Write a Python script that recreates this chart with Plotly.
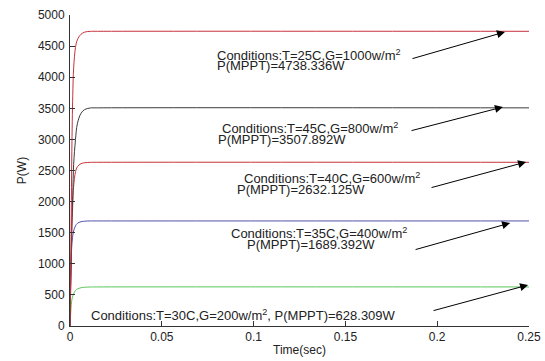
import plotly.graph_objects as go

# time axis (s) shared by all series
t = [0, 0.0005, 0.001, 0.0015, 0.002, 0.003, 0.004, 0.006, 0.008, 0.011, 0.015, 0.25]

p_25c_1000 = [0, 1200, 2800, 3700, 4150, 4480, 4600, 4690, 4725, 4737, 4738, 4738]
p_45c_800 = [0, 900, 1700, 2100, 2600, 3000, 3250, 3420, 3480, 3505, 3507, 3507]
p_40c_600 = [0, 800, 1500, 1950, 2250, 2480, 2560, 2610, 2625, 2631, 2632, 2632]
p_35c_400 = [0, 900, 1300, 1450, 1530, 1610, 1650, 1677, 1685, 1689, 1689, 1689]
p_30c_200 = [0, 250, 420, 480, 520, 570, 595, 615, 623, 627, 628, 628]

series = [
    ("T=30C,G=200", p_30c_200, "rgb(90,200,90)"),
    ("T=35C,G=400", p_35c_400, "rgb(80,80,170)"),
    ("T=40C,G=600", p_40c_600, "rgb(200,50,60)"),
    ("T=45C,G=800", p_45c_800, "rgb(60,60,60)"),
    ("T=25C,G=1000", p_25c_1000, "rgb(200,50,60)"),
]

# text lines: (text, left x, baseline-ish y)
label_lines = [
    ("Conditions:T=25C,G=1000w/m<sup>2</sup>", 0.0795, 4220),
    ("P(MPPT)=4738.336W", 0.0795, 4045),
    ("Conditions:T=45C,G=800w/m<sup>2</sup>", 0.0822, 3040),
    ("P(MPPT)=3507.892W", 0.0801, 2865),
    ("Conditions:T=40C,G=600w/m<sup>2</sup>", 0.0942, 2235),
    ("P(MPPT)=2632.125W", 0.0904, 2060),
    ("Conditions:T=35C,G=400w/m<sup>2</sup>", 0.0871, 1350),
    ("P(MPPT)=1689.392W", 0.0959, 1175),
    ("Conditions:T=30C,G=200w/m<sup>2</sup>, P(MPPT)=628.309W", 0.0109, 40),
]

# arrows: (head x, head y, tail x, tail y)
arrows = [
    (0.2369, 4727, 0.1857, 4292),
    (0.2358, 3521, 0.1852, 3135),
    (0.2484, 2637, 0.1961, 2219),
    (0.2397, 1656, 0.1874, 1222),
    (0.2495, 659, 0.1972, 241),
]

fig = go.Figure()
for name, vals, col in series:
    fig.add_trace(go.Scatter(x=t, y=vals, mode="lines", name=name,
                             line=dict(color=col, width=1), line_shape="spline",
                             showlegend=False))

font = dict(family="Liberation Sans, Arial, sans-serif", size=12, color="#222222")
afont = dict(family="Liberation Sans, Arial, sans-serif", size=13, color="#222222")
for txt, x, y in label_lines:
    fig.add_annotation(x=x, y=y, xref="x", yref="y", text=txt, showarrow=False,
                       xanchor="left", yanchor="bottom", font=afont, borderpad=0)
for hx, hy, tx, ty in arrows:
    fig.add_annotation(x=hx, y=hy, ax=tx, ay=ty, xref="x", yref="y", axref="x", ayref="y",
                       text="", showarrow=True, arrowhead=2, arrowsize=1.6,
                       arrowwidth=1, arrowcolor="black")

fig.update_layout(
    width=545, height=361,
    margin=dict(l=70, r=16, t=15, b=35),
    paper_bgcolor="white", plot_bgcolor="white",
    font=font,
)
fig.update_xaxes(range=[0, 0.25], tickvals=[0, 0.05, 0.1, 0.15, 0.2, 0.25],
                 ticktext=["0", "0.05", "0.1", "0.15", "0.2", "0.25"],
                 showline=True, linecolor="#333", linewidth=1, ticks="inside", ticklen=5,
                 tickcolor="#333", showgrid=False, zeroline=False, automargin=False,
                 title=dict(text="Time(sec)", standoff=2, font=dict(size=12)))
fig.update_yaxes(range=[0, 5000], tickvals=list(range(0, 5001, 500)),
                 showline=True, linecolor="#333", linewidth=1, ticks="inside", ticklen=5,
                 tickcolor="#333", showgrid=False, zeroline=False, automargin=False,
                 ticklabelstandoff=2,
                 title=dict(text="P(W)", standoff=8, font=dict(size=12)))

fig.write_html("out.html", config={"displayModeBar": False},
               post_script="document.body.style.margin='0';document.body.style.overflow='hidden';")
